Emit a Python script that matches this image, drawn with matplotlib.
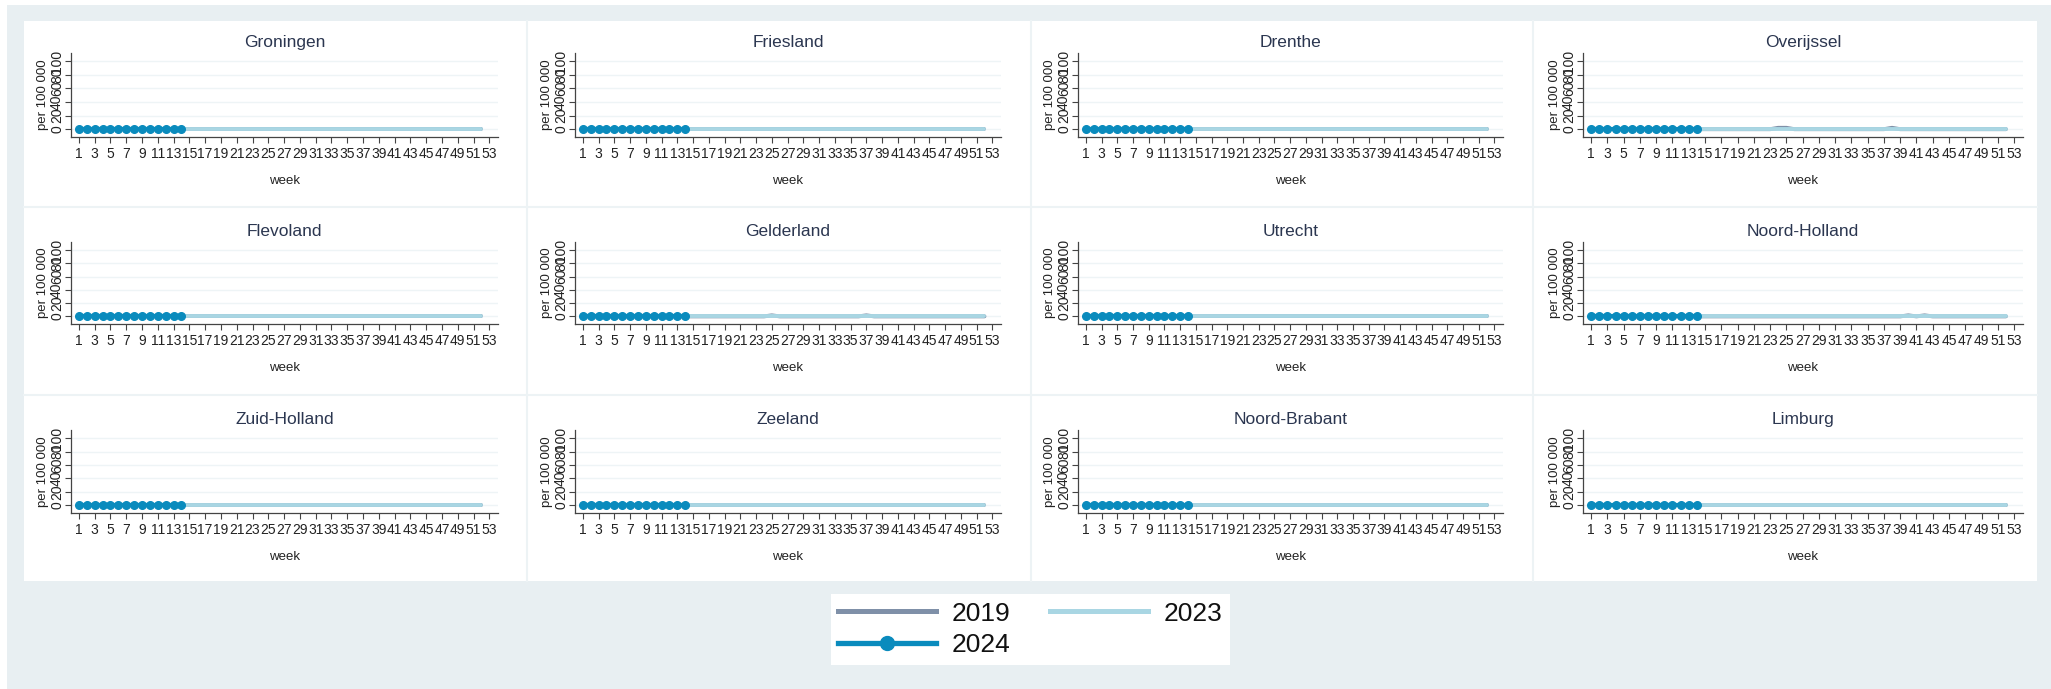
import matplotlib
matplotlib.use('Agg')
import matplotlib.pyplot as plt
from matplotlib.lines import Line2D
from matplotlib.patches import Rectangle

plt.rcParams['font.family'] = ['Liberation Sans', 'DejaVu Sans']

# provincies, in volgorde van de panelen
provinces = ['Groningen', 'Friesland', 'Drenthe', 'Overijssel',
             'Flevoland', 'Gelderland', 'Utrecht', 'Noord-Holland',
             'Zuid-Holland', 'Zeeland', 'Noord-Brabant', 'Limburg']

weeks = list(range(1, 53))
weeks_2024 = list(range(1, 15))

# 2024: alleen week 1 t/m 14 beschikbaar
val_2024 = [0, 0, 0, 0, 0, 0, 0, 0, 0, 0, 0, 0, 0, 0]

# 2023: overal vlak op nul
val_2023 = [0, 0, 0, 0, 0, 0, 0, 0, 0, 0, 0, 0, 0, 0, 0, 0, 0, 0, 0, 0, 0, 0, 0, 0, 0, 0,
            0, 0, 0, 0, 0, 0, 0, 0, 0, 0, 0, 0, 0, 0, 0, 0, 0, 0, 0, 0, 0, 0, 0, 0, 0, 0]

# 2019: vlak, met kleine uitschieters in drie provincies
val_2019_flat = [0, 0, 0, 0, 0, 0, 0, 0, 0, 0, 0, 0, 0, 0, 0, 0, 0, 0, 0, 0, 0, 0, 0, 0, 0, 0,
                 0, 0, 0, 0, 0, 0, 0, 0, 0, 0, 0, 0, 0, 0, 0, 0, 0, 0, 0, 0, 0, 0, 0, 0, 0, 0]
val_2019_overijssel = [0, 0, 0, 0, 0, 0, 0, 0, 0, 0, 0, 0, 0, 0, 0, 0, 0, 0, 0, 0, 0, 0, 0, 2, 2, 0,
                       0, 0, 0, 0, 0, 0, 0, 0, 0, 0, 0, 2, 0, 0, 0, 0, 0, 0, 0, 0, 0, 0, 0, 0, 0, 0]
val_2019_gelderland = [0, 0, 0, 0, 0, 0, 0, 0, 0, 0, 0, 0, 0, 0, 0, 0, 0, 0, 0, 0, 0, 0, 0, 0, 1.5, 0,
                       0, 0, 0, 0, 0, 0, 0, 0, 0, 0, 1.5, 0, 0, 0, 0, 0, 0, 0, 0, 0, 0, 0, 0, 0, 0, 0]
val_2019_noordholland = [0, 0, 0, 0, 0, 0, 0, 0, 0, 0, 0, 0, 0, 0, 0, 0, 0, 0, 0, 0, 0, 0, 0, 0, 0, 0,
                         0, 0, 0, 0, 0, 0, 0, 0, 0, 0, 0, 0, 0, 1.5, 0, 1.5, 0, 0, 0, 0, 0, 0, 0, 0, 0, 0]
val_2019 = {p: val_2019_flat for p in provinces}
val_2019['Overijssel'] = val_2019_overijssel
val_2019['Gelderland'] = val_2019_gelderland
val_2019['Noord-Holland'] = val_2019_noordholland

colors = {'2019': '#7f90a8', '2023': '#a9d6e3', '2024': '#0a8bbd'}

y_ticks = [0, 20, 40, 60, 80, 100]
x_ticks = list(range(1, 54, 2))

W, H = 2051, 689
fig = plt.figure(figsize=(W / 100, H / 100), dpi=100, facecolor='white')


def fx(px):
    return px / W


def fy(py):
    return 1 - py / H


# achtergrond en witte panelen (onder de assen tekenen)
bg = '#e8eff2'
fig.patches.append(Rectangle((fx(7), 0), 1 - fx(7), fy(5), transform=fig.transFigure,
                             facecolor=bg, edgecolor='none', zorder=-3))
fig.patches.append(Rectangle((fx(24), fy(581)), fx(2037) - fx(24), fy(21) - fy(581),
                             transform=fig.transFigure, facecolor='white', edgecolor='none',
                             zorder=-2))
for sx in [527, 1031, 1533]:
    fig.lines.append(Line2D([fx(sx), fx(sx)], [fy(21), fy(581)], transform=fig.transFigure,
                            color='#edf3f5', lw=1.5, zorder=-1))
for sy in [207, 395]:
    fig.lines.append(Line2D([fx(24), fx(2037)], [fy(sy), fy(sy)], transform=fig.transFigure,
                            color='#edf3f5', lw=1.5, zorder=-1))

col_left = [71, 575, 1078, 1583]
col_right = [498, 1001, 1503, 2023]
row_top = [53, 242, 430]
row_bottom = [137, 324, 513]

for i, prov in enumerate(provinces):
    r, c = divmod(i, 4)
    ax = fig.add_axes([fx(col_left[c]), fy(row_bottom[r]),
                       fx(col_right[c]) - fx(col_left[c]), fy(row_top[r]) - fy(row_bottom[r])])
    ax.set_facecolor('none')
    ax.plot(weeks, val_2019[prov], color=colors['2019'], lw=2.8, solid_capstyle='round', zorder=3)
    ax.plot(weeks, val_2023, color=colors['2023'], lw=2.8, solid_capstyle='round', zorder=4)
    ax.plot(weeks_2024, val_2024, color=colors['2024'], lw=3, marker='o', markersize=5.5,
            zorder=5)
    ax.set_xlim(0, 54.1)
    ax.set_ylim(-11.5, 112)
    ax.set_xticks(x_ticks)
    ax.set_yticks(y_ticks)
    ax.tick_params(axis='x', labelsize=10, length=4, width=0.8, color='#444444',
                   labelcolor='#222222', pad=3)
    ax.tick_params(axis='y', labelsize=10, length=4, width=0.8, color='#444444',
                   labelcolor='#222222', labelrotation=90, pad=1)
    for lab in ax.get_yticklabels():
        lab.set_va('center')
    ax.grid(axis='y', color='#eef4f6', lw=1)
    ax.set_axisbelow(True)
    for s in ['top', 'right']:
        ax.spines[s].set_visible(False)
    for s in ['left', 'bottom']:
        ax.spines[s].set_color('#444444')
        ax.spines[s].set_linewidth(0.9)
    ax.set_title(prov, fontsize=12.5, color='#2b3650', pad=4)
    ax.set_xlabel('week', fontsize=9.5, color='#222222', labelpad=10)
    ax.set_ylabel('per 100 000', fontsize=9.5, color='#222222', labelpad=1)

handles = [
    Line2D([], [], color=colors['2019'], lw=3.6),
    Line2D([], [], color=colors['2024'], lw=3.8, marker='o', markersize=10),
    Line2D([], [], color=colors['2023'], lw=3.6),
]
labels = ['2019', '2024', '2023']
leg = fig.legend(handles, labels, ncol=2, loc='center',
                 bbox_to_anchor=(fx(1030.5), fy(629.5)), fontsize=19,
                 frameon=True, fancybox=False, edgecolor='none', facecolor='white',
                 framealpha=1, handlelength=3.7, handletextpad=0.6, columnspacing=1.5,
                 labelspacing=0.3, borderpad=0.3, numpoints=1)
for t in leg.get_texts():
    t.set_color('#111111')

fig.savefig('out.png', dpi=100, facecolor=fig.get_facecolor())
